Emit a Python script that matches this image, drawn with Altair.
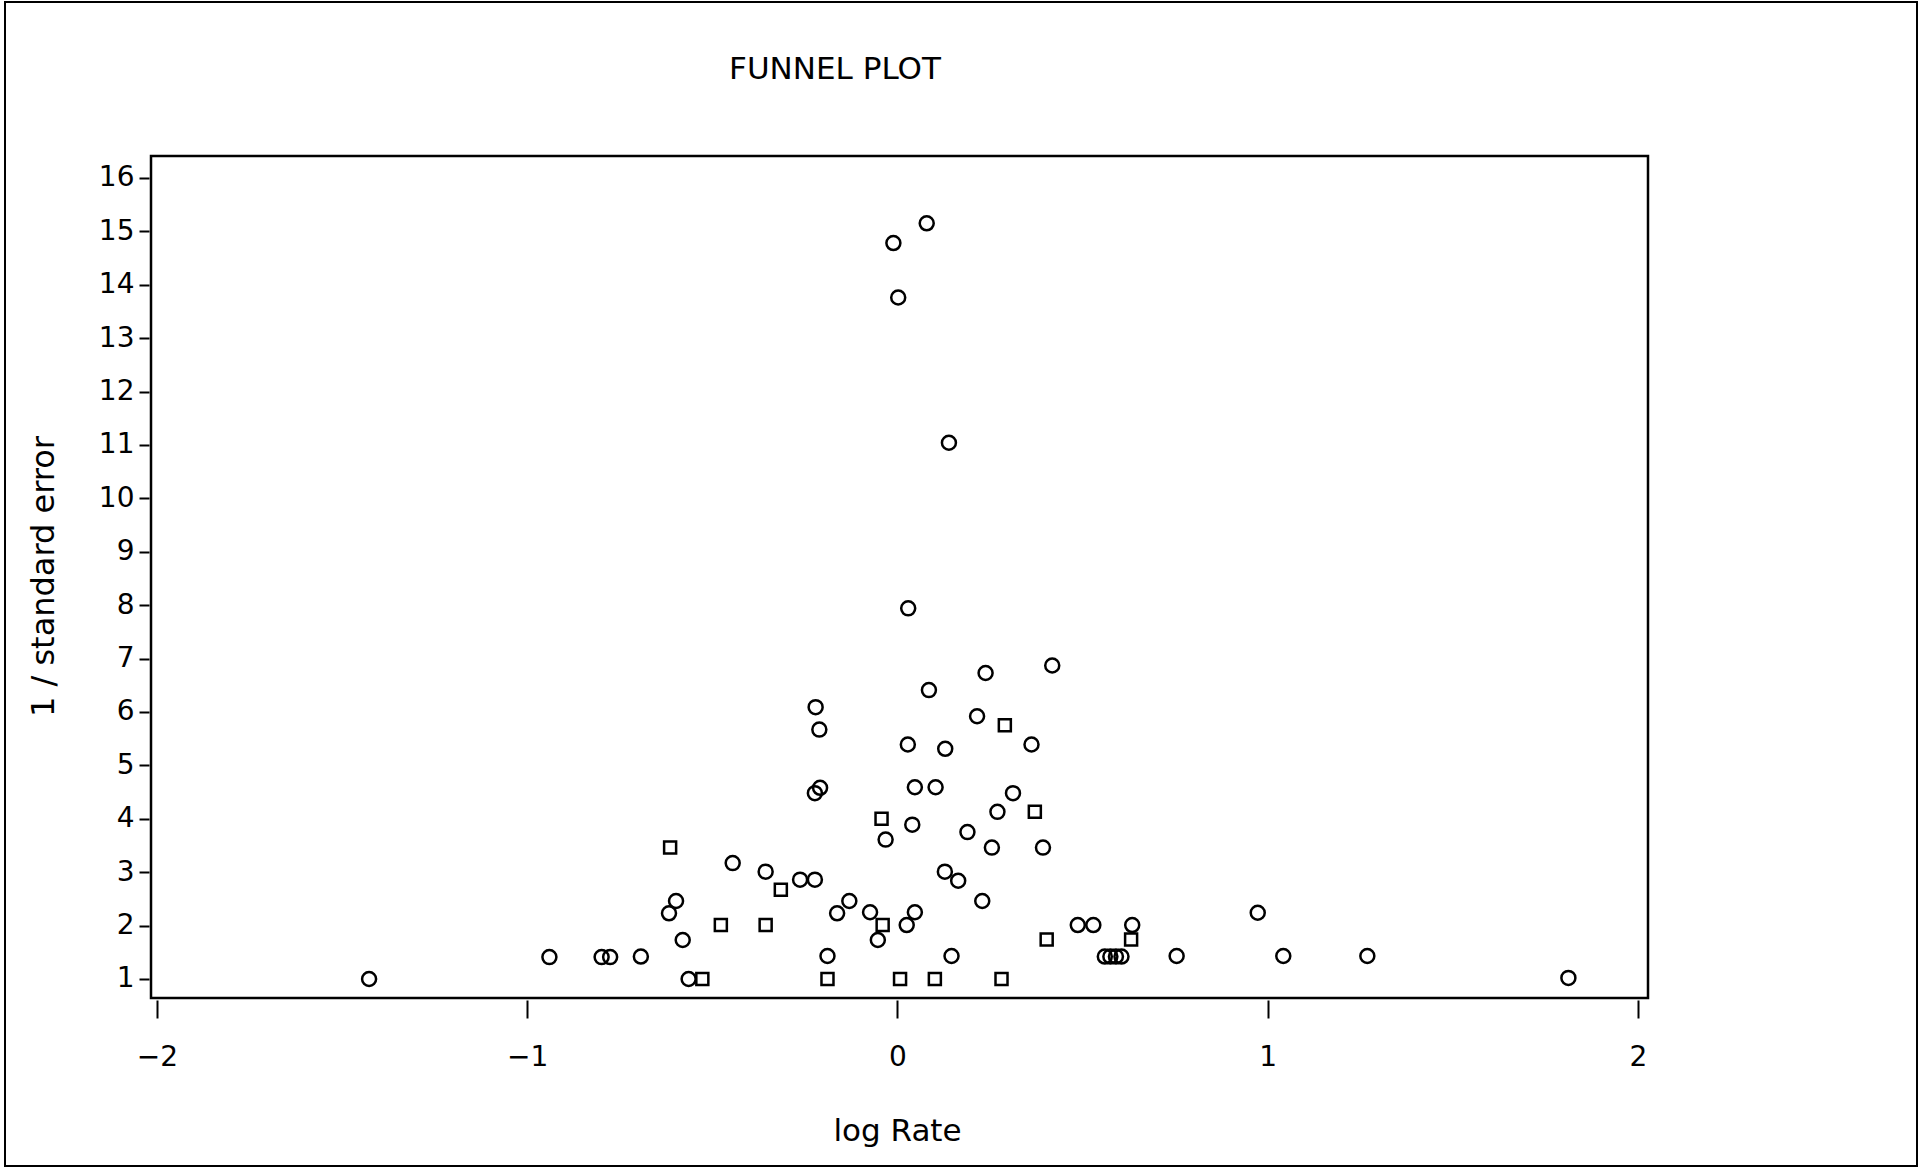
import altair as alt
import pandas as pd

# Log rate and precision (1 / standard error) per study, split by plotting symbol
circle_log_rate = [
    0.079, -0.011, 0.002, 0.139, 0.029, 0.238, 0.418, 0.085, -0.221, 0.215,
    -0.211, 0.028, 0.129, 0.362, -0.223, -0.209, 0.047, 0.103, 0.312, 0.040,
    0.270, -0.032, 0.189, 0.255, 0.393, -0.445, -0.356, -0.263, -0.223, 0.128,
    0.164, 0.229, -0.598, -0.617, -0.130, -0.163, -0.074, -0.053, 0.047, 0.025,
    -0.580, 0.487, 0.529, -0.189, 0.146, -0.693, -0.799, -0.776, -0.940, -1.427,
    -0.564, 0.973, 0.634, 0.560, 0.575, 0.590, 0.605, 0.754, 1.042, 1.269,
    1.812,
]
circle_precision = [
    15.15, 14.78, 13.76, 11.04, 7.94, 6.73, 6.87, 6.41, 6.09, 5.92,
    5.67, 5.39, 5.31, 5.39, 4.48, 4.58, 4.59, 4.59, 4.48, 3.89,
    4.13, 3.61, 3.75, 3.46, 3.46, 3.17, 3.01, 2.86, 2.86, 3.01,
    2.84, 2.46, 2.46, 2.23, 2.46, 2.23, 2.25, 1.73, 2.25, 2.01,
    1.73, 2.01, 2.01, 1.43, 1.43, 1.42, 1.41, 1.41, 1.41, 1.00,
    1.00, 2.24, 2.01, 1.42, 1.42, 1.42, 1.42, 1.43, 1.43, 1.43,
    1.02,
]
square_log_rate = [
    0.290, -0.043, 0.371, -0.614, -0.315, -0.040, -0.477, -0.356, 0.403, 0.631,
    -0.527, -0.189, 0.007, 0.101, 0.281,
]
square_precision = [
    5.75, 4.00, 4.13, 3.46, 2.67, 2.01, 2.01, 2.01, 1.74, 1.74,
    1.00, 1.00, 1.00, 1.00, 1.00,
]

x_ticks = [-2, -1, 0, 1, 2]
y_ticks = list(range(1, 17))
chart_title = "FUNNEL PLOT"

studies = pd.DataFrame({
    "log_rate": circle_log_rate + square_log_rate,
    "precision": circle_precision + square_precision,
    "symbol": ["circle"] * len(circle_log_rate) + ["square"] * len(square_log_rate),
})

FONT = "DejaVu Sans"
W, H = 1497, 842

x_enc = alt.X(
    "log_rate:Q",
    scale=alt.Scale(domain=[-2.016, 2.027], nice=False, zero=False),
    axis=alt.Axis(
        values=x_ticks, format="d", title="log Rate",
        domain=False, grid=False, offset=2,
        tickSize=18, tickWidth=2, tickColor="black",
        labelFont=FONT, labelFontSize=28, labelColor="black",
        labelPadding=25, labelFlush=False,
        titleFont=FONT, titleFontSize=31, titleFontWeight="normal",
        titleColor="black", titleX=746, titleY=140,
        titleAlign="center", titleBaseline="alphabetic",
    ),
)
y_enc = alt.Y(
    "precision:Q",
    scale=alt.Scale(domain=[0.644, 16.41], nice=False, zero=False),
    axis=alt.Axis(
        values=y_ticks, format="d", title="1 / standard error",
        domain=False, grid=False, offset=2,
        tickSize=10, tickWidth=2, tickColor="black",
        labelFont=FONT, labelFontSize=28, labelColor="black",
        labelPadding=5, labelOverlap=False,
        titleFont=FONT, titleFontSize=32, titleFontWeight="normal",
        titleColor="black", titleAngle=270, titleX=-96, titleY=420,
        titleAlign="center", titleBaseline="alphabetic",
    ),
)

base = alt.Chart(studies)

circles = base.transform_filter(alt.datum.symbol == "circle").mark_point(
    shape="circle", size=196, filled=False, stroke="black",
    strokeWidth=2.5, opacity=1,
).encode(x=x_enc, y=y_enc)

squares = base.transform_filter(alt.datum.symbol == "square").mark_point(
    shape="square", size=144, filled=False, stroke="black",
    strokeWidth=2.5, opacity=1,
).encode(x=x_enc, y=y_enc)

# Heading above the frame
heading = alt.Chart(pd.DataFrame({"label": [chart_title]})).mark_text(
    font=FONT, fontSize=31, align="center", baseline="alphabetic", color="black",
).encode(text="label:N", x=alt.value(684), y=alt.value(-77))

# Page border around the whole figure
page_border = alt.Chart(pd.DataFrame({"k": [0]})).mark_rect(
    fillOpacity=0, stroke="black", strokeWidth=2,
).encode(x=alt.value(-146), x2=alt.value(1766), y=alt.value(-154), y2=alt.value(1010))

chart = alt.layer(page_border, heading, circles, squares).properties(
    width=W,
    height=H,
    padding={"left": 151, "top": 156, "right": 1921 - 151 - W, "bottom": 1168 - 156 - H},
    autosize=alt.AutoSizeParams(type="none"),
    background="white",
).configure_view(stroke="black", strokeWidth=2.5)

chart.save("out.html", embed_options={"renderer": "svg", "actions": False})
